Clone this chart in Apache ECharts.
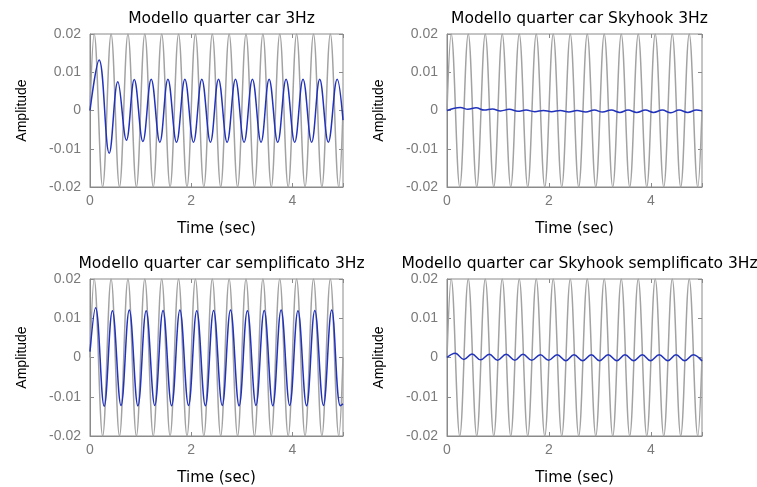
<!DOCTYPE html>
<html>
<head>
<meta charset="utf-8">
<script src="https://cdn.jsdelivr.net/npm/echarts@6/dist/echarts.min.js"></script>
<style>html,body{margin:0;padding:0;background:#fff}#c{width:757px;height:487px}</style>
</head>
<body>
<div id="c"></div>
<script>
// Titles
const titles = ['Modello quarter car 3Hz', 'Modello quarter car Skyhook 3Hz',
  'Modello quarter car semplificato 3Hz', 'Modello quarter car Skyhook semplificato 3Hz'];
const xName = 'Time (sec)';
const yName = 'Amplitude';
const xTicks = [0, 2, 4];
const yTicks = [-0.02, -0.01, 0, 0.01, 0.02];

// Input signal (gray, 3 Hz) – extrema
const inputT = [0, 0.083, 0.25, 0.417, 0.583, 0.75, 0.917, 1.083, 1.25, 1.417, 1.583, 1.75, 1.917, 2.083, 2.25, 2.417,
  2.583, 2.75, 2.917, 3.083, 3.25, 3.417, 3.583, 3.75, 3.917, 4.083, 4.25, 4.417, 4.583, 4.75, 4.917, 5];
const inputY = [0, 0.02, -0.02, 0.02, -0.02, 0.02, -0.02, 0.02, -0.02, 0.02, -0.02, 0.02, -0.02, 0.02, -0.02, 0.02,
  -0.02, 0.02, -0.02, 0.02, -0.02, 0.02, -0.02, 0.02, -0.02, 0.02, -0.02, 0.02, -0.02, 0.02, -0.02, 0];

// Quarter car (top-left, blue)
const qcT = [0, 0.18, 0.38, 0.55, 0.72, 0.875, 1.045, 1.21, 1.38, 1.54, 1.71, 1.875, 2.045, 2.21, 2.38, 2.54,
  2.71, 2.875, 3.045, 3.21, 3.38, 3.54, 3.71, 3.875, 4.045, 4.21, 4.38, 4.54, 4.71, 4.885, 5];
const qcY = [0, 0.0132, -0.0112, 0.0075, -0.0078, 0.0081, -0.0081, 0.0082, -0.0083, 0.0082, -0.0083, 0.0082, -0.0083, 0.0082, -0.0083, 0.0082,
  -0.0083, 0.0082, -0.0083, 0.0082, -0.0083, 0.0082, -0.0083, 0.0082, -0.0083, 0.0082, -0.0083, 0.0082, -0.0083, 0.0082, -0.0025];

// Quarter car Skyhook (top-right, blue)
const skT = [0, 0.26, 0.41, 0.57, 0.73, 0.89, 1.05, 1.22, 1.39, 1.55, 1.72, 1.89, 2.05, 2.22, 2.39, 2.55,
  2.72, 2.89, 3.05, 3.22, 3.39, 3.55, 3.72, 3.89, 4.05, 4.22, 4.39, 4.55, 4.72, 4.89, 5];
const skY = [0, 0.0008, 0.0003, 0.0007, 0.0001, 0.0004, -0.0001, 0.0003, -0.0002, 0.0001, -0.0003, 0.0, -0.0003, 0.0, -0.0004, 0.0,
  -0.0004, 0.0001, -0.0004, 0.0001, -0.0005, 0.0001, -0.0005, 0.0001, -0.0005, 0.0001, -0.0006, 0.0001, -0.0005, 0.0001, -0.0001];

// Quarter car semplificato (bottom-left, blue)
const qsT = [0, 0.11, 0.28, 0.443, 0.613, 0.777, 0.947, 1.11, 1.28, 1.443, 1.613, 1.777, 1.947, 2.11, 2.28, 2.443,
  2.613, 2.777, 2.947, 3.11, 3.28, 3.443, 3.613, 3.777, 3.947, 4.11, 4.28, 4.443, 4.613, 4.777, 4.947, 5];
const qsY = [0.0015, 0.0127, -0.0124, 0.0119, -0.0122, 0.0121, -0.0123, 0.0119, -0.0122, 0.012, -0.0123, 0.0121, -0.0122, 0.0119, -0.0123, 0.012,
  -0.0122, 0.0121, -0.0123, 0.0119, -0.0122, 0.012, -0.0123, 0.0121, -0.0122, 0.0119, -0.0123, 0.012, -0.0122, 0.0121, -0.0123, -0.0118];

// Quarter car Skyhook semplificato (bottom-right, blue)
const ssT = [0, 0.16, 0.33, 0.49, 0.66, 0.83, 0.99, 1.16, 1.33, 1.49, 1.66, 1.83, 1.99, 2.16, 2.33, 2.49,
  2.66, 2.83, 2.99, 3.16, 3.33, 3.49, 3.66, 3.83, 3.99, 4.16, 4.33, 4.49, 4.66, 4.83, 5];
const ssY = [0, 0.0011, -0.0005, 0.0009, -0.0006, 0.0008, -0.0007, 0.0008, -0.0007, 0.0008, -0.0007, 0.0007, -0.0007, 0.0007, -0.0008, 0.0007,
  -0.0008, 0.0007, -0.0008, 0.0007, -0.0008, 0.0007, -0.0008, 0.0007, -0.0008, 0.0007, -0.0008, 0.0007, -0.0008, 0.0007, -0.0009];

const zip = (t, y) => t.map((v, i) => [v, y[i]]);
const blueSets = [zip(qcT, qcY), zip(skT, skY), zip(qsT, qsY), zip(ssT, ssY)];
const inputData = zip(inputT, inputY);

const grids = [
  {left: 90, top: 34, width: 253, height: 153},
  {left: 447, top: 34, width: 255, height: 153},
  {left: 90, top: 279, width: 253, height: 158},
  {left: 447, top: 279, width: 255, height: 158}
];
const frame = '#8a8a8a';
const tickColor = '#7a7a7a';

const option = {
  animation: false,
  backgroundColor: '#fff',
  title: grids.map((g, i) => ({
    text: titles[i],
    left: g.left + g.width / 2,
    top: g.top - 28,
    textAlign: 'center',
    textStyle: {fontFamily: 'DejaVu Sans', fontSize: 15.5, fontWeight: 'normal', color: '#000'}
  })),
  grid: grids.map(g => Object.assign({show: true, borderColor: frame, borderWidth: 1, backgroundColor: '#fff'}, g)),
  xAxis: [],
  yAxis: [],
  series: []
};

grids.forEach((g, i) => {
  option.xAxis.push({
    type: 'value', gridIndex: i, min: 0, max: 5, interval: 2,
    name: xName, nameLocation: 'middle', nameGap: 35,
    nameTextStyle: {fontFamily: 'DejaVu Sans', fontSize: 15, color: '#000'},
    axisLine: {show: true, onZero: false, lineStyle: {color: frame}},
    axisTick: {show: true, inside: true, length: 4, lineStyle: {color: frame}},
    axisLabel: {margin: 7, color: tickColor, fontFamily: 'Liberation Sans', fontSize: 14,
      formatter: v => xTicks.indexOf(v) >= 0 ? String(v) : ''},
    splitLine: {show: false}
  });
  option.yAxis.push({
    type: 'value', gridIndex: i, min: -0.02, max: 0.02, interval: 0.01,
    name: yName, nameLocation: 'middle', nameGap: 61, nameRotate: 90,
    nameTextStyle: {fontFamily: 'Liberation Sans Narrow, Liberation Sans', fontSize: 14, color: '#000'},
    axisLine: {show: true, onZero: false, lineStyle: {color: frame}},
    axisTick: {show: true, inside: true, length: 4, lineStyle: {color: frame}},
    axisLabel: {margin: 9, color: tickColor, fontFamily: 'Liberation Sans', fontSize: 14,
      formatter: v => { const r = Math.round(v * 100) / 100; return yTicks.indexOf(r) >= 0 ? String(r) : ''; }},
    splitLine: {show: false}
  });
});
grids.forEach((g, i) => {
  option.xAxis.push({
    type: 'value', gridIndex: i, min: 0, max: 5, interval: 2, position: 'top',
    axisLine: {show: false, onZero: false}, axisLabel: {show: false}, splitLine: {show: false},
    axisTick: {show: true, inside: true, length: 4, lineStyle: {color: frame}}
  });
  option.yAxis.push({
    type: 'value', gridIndex: i, min: -0.02, max: 0.02, interval: 0.01, position: 'right',
    axisLine: {show: false, onZero: false}, axisLabel: {show: false}, splitLine: {show: false},
    axisTick: {show: true, inside: true, length: 4, lineStyle: {color: frame}}
  });
});
grids.forEach((g, i) => {
  option.series.push({
    type: 'line', xAxisIndex: i, yAxisIndex: i, data: inputData, smooth: 0.38,
    showSymbol: false, symbol: 'none', lineStyle: {color: '#a2a2a2', width: 1.5}, z: 2
  });
  option.series.push({
    type: 'line', xAxisIndex: i, yAxisIndex: i, data: blueSets[i], smooth: 0.4,
    showSymbol: false, symbol: 'none', lineStyle: {color: '#2233bb', width: 1.5}, z: 3
  });
});

const chart = echarts.init(document.getElementById('c'), null, {renderer: 'canvas'});
chart.setOption(option);
</script>
</body>
</html>
